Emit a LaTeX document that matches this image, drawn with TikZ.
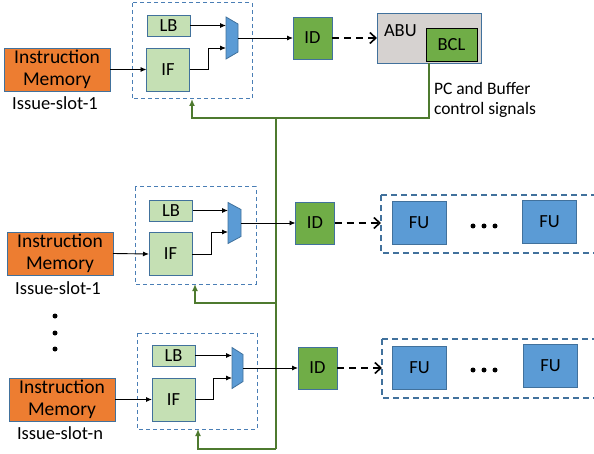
\documentclass[tikz,border=0pt]{standalone}
\usepackage{fontspec}
\setmainfont{Carlito}
\usetikzlibrary{arrows.meta,calc}

\definecolor{imorange}{HTML}{ED7D31}
\definecolor{lightgreen}{HTML}{C5E0B4}
\definecolor{idgreen}{HTML}{70AD47}
\definecolor{fublue}{HTML}{5B9BD5}
\definecolor{edgeblue}{HTML}{41719C}
\definecolor{framebl}{HTML}{4A7EB5}
\definecolor{abugray}{HTML}{D6D2D0}
\definecolor{busgreen}{HTML}{4E7A2F}

\tikzset{
  x=1pt, y=-1pt,
  every node/.style={inner sep=0pt, outer sep=0pt, font=\fontsize{18.5}{22}\selectfont},
  block/.style={draw=edgeblue, line width=0.9pt, minimum width=#1},
  membox/.style={block=106pt, fill=imorange, minimum height=43pt, align=center,
                 font=\fontsize{19.5}{22}\selectfont},
  lbbox/.style={block=43pt, fill=lightgreen, minimum height=21pt},
  ifbox/.style={block=43pt, fill=lightgreen, minimum height=43pt},
  idbox/.style={block=39pt, fill=idgreen, minimum height=42pt},
  fubox/.style={block=54pt, fill=fublue, minimum height=43pt},
  muxbox/.style={minimum width=12pt, minimum height=42pt},
  muxshape/.style={draw=edgeblue, line width=0.8pt, fill=fublue},
  fetchframe/.style={draw=framebl, line width=1pt, dash pattern=on 4pt off 3pt},
  unitframe/.style={draw=edgeblue, line width=1.4pt, dash pattern=on 6pt off 4pt},
  wire/.style={draw=black, line width=0.9pt, -{Latex[length=6pt,width=5pt]}},
  issue/.style={draw=black, line width=2pt, dash pattern=on 7pt off 5pt,
                -{Straight Barb[length=6pt,width=11pt,line width=1.6pt]}},
  bus/.style={draw=busgreen, line width=1.4pt},
  busarrow/.style={bus, -{Latex[length=7pt,width=6pt]}},
  dotmark/.style={circle, fill=black, minimum size=5pt},
}

\newcommand{\muxpoly}[1]{%
  \path[muxshape] (#1.north west) -- ($(#1.north east)+(0,7)$)
    -- ($(#1.south east)+(0,-7)$) -- (#1.south west) -- cycle;}

\begin{document}
\begin{tikzpicture}
\useasboundingbox (0,0) rectangle (594,454);

% ---------- slot with ABU ----------
\draw[fetchframe] (132,3) rectangle (252,99);
\node[membox] (im1) at (57,69.5) {Instruction\\Memory};
\node (lab1) at (55,103) {Issue-slot-1};
\node[lbbox] (lb1) at (168.5,25.5) {LB};
\node[ifbox] (if1) at (168,69.5) {IF};
\node[muxbox] (mux1) at (232,38) {};
\muxpoly{mux1}
\node[idbox] (id1) at (312.5,38) {ID};
\node[block=104pt, fill=abugray, minimum height=50pt] (abu) at (429,38) {};
\node[anchor=west] (abulab) at (384,31) {ABU};
\node[draw=black, line width=0.9pt, fill=idgreen, minimum width=51pt, minimum height=33pt]
  (bcl) at (451.5,44.5) {BCL};
\node[anchor=west, align=left, font=\fontsize{17.5}{20}\selectfont] (pcsig) at (434,100)
  {PC and Buffer\\control signals};

\draw[wire] (im1.east) -- (if1.west);
\draw[wire] (lb1.east) -- (lb1.east -| mux1.west);
\draw[wire] (if1.east) -- (208,69.5) -- (208,48) -- (mux1.west |- 0,48);
\draw[wire] (mux1.east) -- (id1.west);
\draw[issue] (id1.east) -- (abu.west);

% ---------- control bus ----------
\coordinate (busTop) at (276,118);
\coordinate (busMid) at (276,303);
\coordinate (busBot) at (276,449);
\draw[busarrow] (abu.south) -- (429,118) -- (192,118) -- (192,99);
\draw[bus] (busTop) -- (busBot);
\draw[busarrow] (busMid) -- (195,303) -- (195,284);
\draw[busarrow] (busBot) -- (198,449) -- (198,429);

% ---------- issue slot 1 ----------
\draw[fetchframe] (135,187) rectangle (256,284);
\node[membox] (im2) at (60,253.5) {Instruction\\Memory};
\node (lab2) at (58,288) {Issue-slot-1};
\node[lbbox] (lb2) at (171,210.5) {LB};
\node[ifbox] (if2) at (170.5,254) {IF};
\node[muxbox, minimum height=41pt, minimum width=13pt] (mux2) at (234.5,223) {};
\muxpoly{mux2}
\node[idbox] (id2) at (315,223) {ID};
\draw[unitframe] (381,195) -- (600,195) (381,195) -- (381,253) -- (600,253);
\coordinate (fuin2) at (381,223);
\node[fubox] (fu2a) at (419,222.5) {FU};
\node[fubox] (fu2b) at (549.5,221.5) {FU};
\node[dotmark] (d2a) at (473,226) {};
\node[dotmark] (d2b) at (484,226) {};
\node[dotmark] (d2c) at (495,226) {};

\draw[wire] (im2.east) -- (if2.west);
\draw[wire] (lb2.east) -- (lb2.east -| mux2.west);
\draw[wire] (if2.east) -- (211,254) -- (211,232) -- (mux2.west |- 0,232);
\draw[wire] (mux2.east) -- (id2.west);
\draw[issue] (id2.east) -- (fuin2);

% ---------- vertical ellipsis ----------
\node[dotmark] (v1) at (55,316) {};
\node[dotmark] (v2) at (55,333) {};
\node[dotmark] (v3) at (55,349) {};

% ---------- issue slot n ----------
\draw[fetchframe] (137,333) rectangle (257,429);
\node[membox] (im3) at (62,399.5) {Instruction\\Memory};
\node (lab3) at (60,433) {Issue-slot-n};
\node[lbbox] (lb3) at (173.5,355.5) {LB};
\node[ifbox] (if3) at (173.5,399.5) {IF};
\node[muxbox, minimum height=41pt, minimum width=11pt] (mux3) at (237.5,368) {};
\muxpoly{mux3}
\node[idbox] (id3) at (317.5,368) {ID};
\draw[unitframe] (382,339) -- (600,339) (382,339) -- (382,398) -- (600,398);
\coordinate (fuin3) at (382,368);
\node[fubox] (fu3a) at (419.5,367.5) {FU};
\node[fubox] (fu3b) at (550.5,366) {FU};
\node[dotmark] (d3a) at (473,370) {};
\node[dotmark] (d3b) at (484,370) {};
\node[dotmark] (d3c) at (495,370) {};

\draw[wire] (im3.east) -- (if3.west);
\draw[wire] (lb3.east) -- (lb3.east -| mux3.west);
\draw[wire] (if3.east) -- (213,399.5) -- (213,378) -- (mux3.west |- 0,378);
\draw[wire] (mux3.east) -- (id3.west);
\draw[issue] (id3.east) -- (fuin3);
\end{tikzpicture}
\end{document}
